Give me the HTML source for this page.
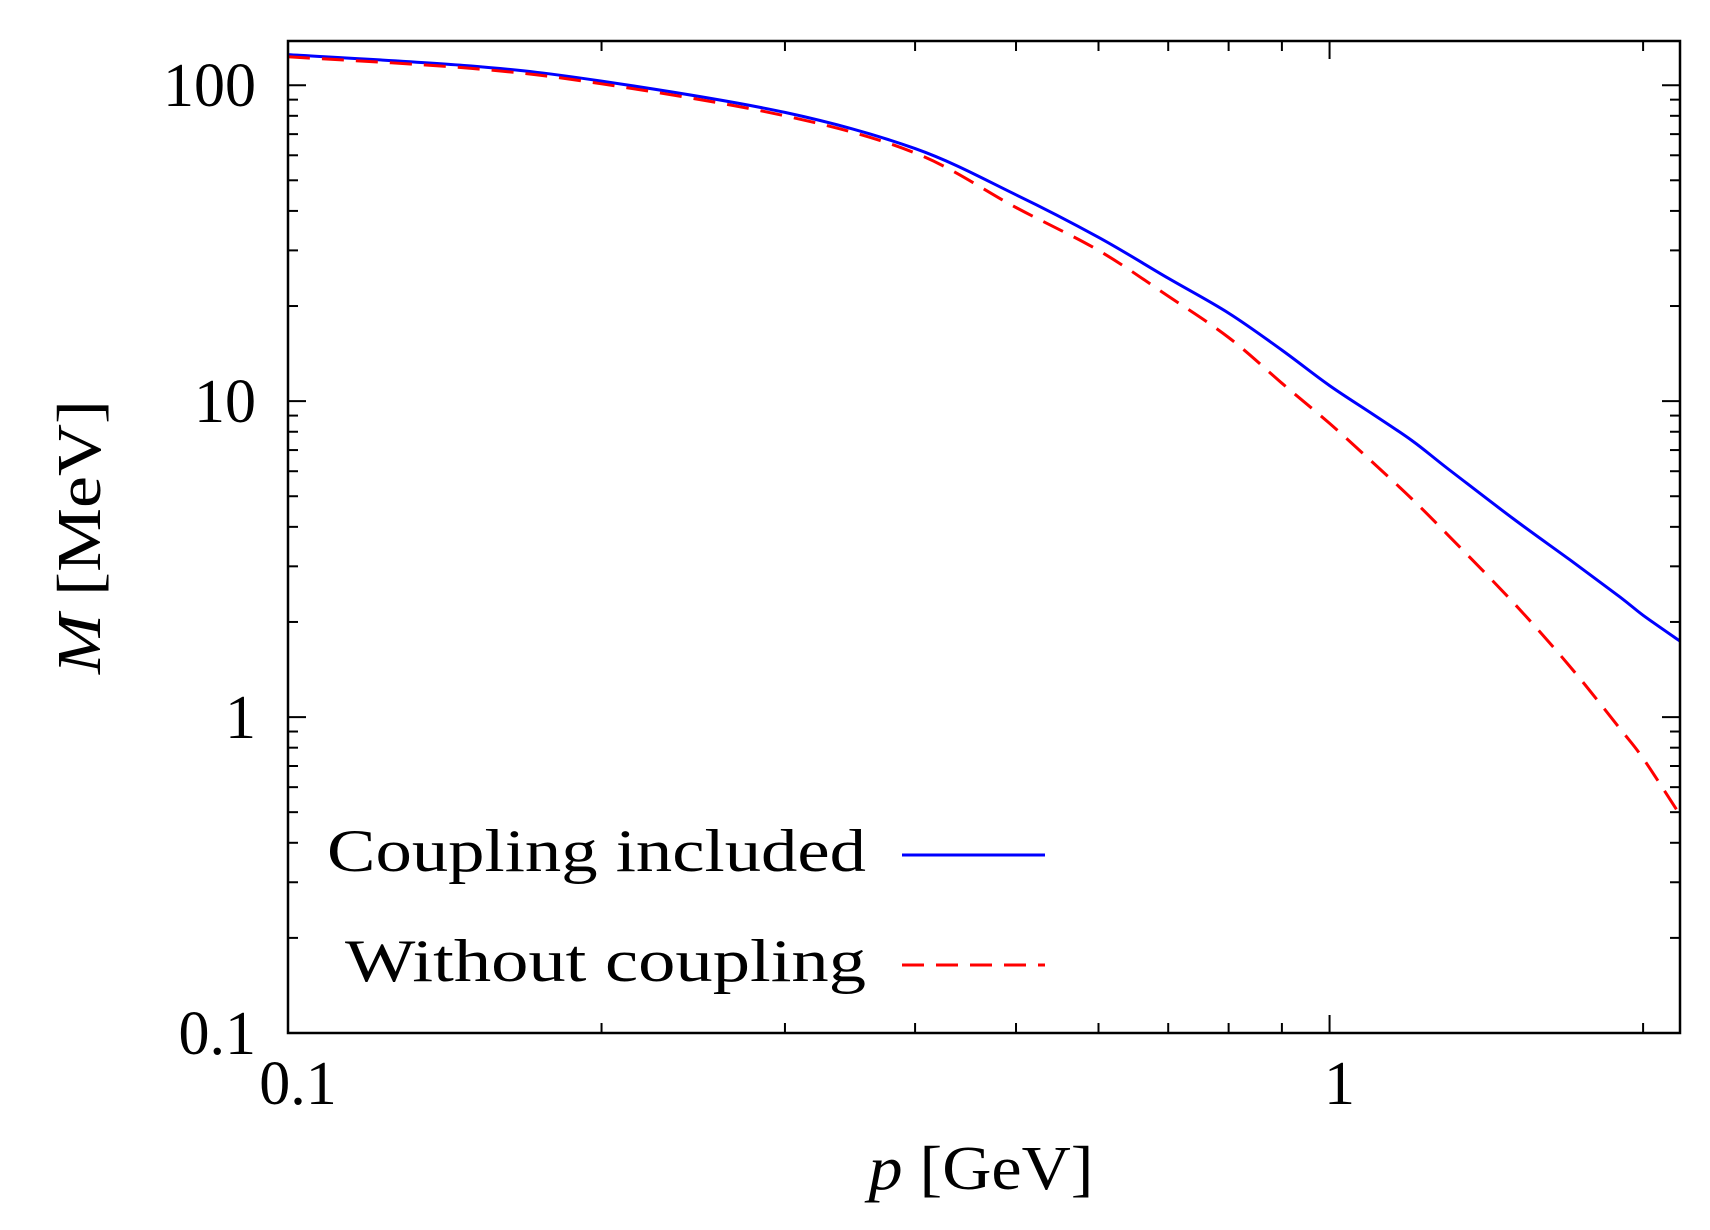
<!DOCTYPE html>
<html><head><meta charset="utf-8"><style>
html,body{margin:0;padding:0;background:#fff;}
svg{display:block;font-family:"Liberation Serif",serif;}
</style></head><body>
<svg id="chart" width="1710" height="1230" viewBox="0 0 1710 1230">
<g id="ticks"></g>
<g id="series"></g>
<rect x="288" y="41" width="1392" height="992" fill="none" stroke="#000" stroke-width="2.5"/>
<g>
<text x="866" y="871" font-size="60" text-anchor="end" textLength="539" lengthAdjust="spacingAndGlyphs">Coupling included</text>
<line x1="902" y1="855" x2="1045" y2="855" stroke="#0000ff" stroke-width="3"/>
<text x="866" y="981" font-size="60" text-anchor="end" textLength="521" lengthAdjust="spacingAndGlyphs">Without coupling</text>
<line x1="902" y1="965" x2="1045" y2="965" stroke="#ff0000" stroke-width="3" stroke-dasharray="22,12"/>
</g>
<text x="981" y="1189" font-size="62" text-anchor="middle" textLength="225" lengthAdjust="spacingAndGlyphs"><tspan font-style="italic">p</tspan> [GeV]</text>
<text transform="translate(100,537) rotate(-90)" font-size="62" text-anchor="middle" textLength="274" lengthAdjust="spacingAndGlyphs"><tspan font-style="italic">M</tspan> [MeV]</text>
</svg>
<script>
const pValues=[0.1,0.15,0.2,0.3,0.4,0.5,0.6,0.7,0.8,0.9,1.0,1.1,1.2,1.3,1.5,1.7,1.9,2.0,2.17];
const coupled=[125,115,103,82,63,45,33,24.5,19,14.5,11.2,9.1,7.5,6.1,4.25,3.15,2.4,2.1,1.74];
const uncoupled=[123,113,101,80,61,41,30,21.5,15.9,11.4,8.5,6.4,4.9,3.76,2.31,1.45,0.92,0.74,0.49];
const yTickValues=[0.1,1,10,100];
const yTickLabels=["0.1","1","10","100"];
const xTickValues=[0.1,1];
const xTickLabels=["0.1","1"];
const L=288,R=1680,T=41,B=1033;
const xmin=0.1,xmax=2.17,ymin=0.1,ymax=138;
const sx=v=>L+(Math.log10(v)-Math.log10(xmin))/(Math.log10(xmax)-Math.log10(xmin))*(R-L);
const sy=v=>B-(Math.log10(v)-Math.log10(ymin))/(Math.log10(ymax)-Math.log10(ymin))*(B-T);
const NS="http://www.w3.org/2000/svg";
const tg=document.getElementById('ticks'),sg=document.getElementById('series');
function ln(x1,y1,x2,y2){const l=document.createElementNS(NS,'line');l.setAttribute('x1',x1);l.setAttribute('y1',y1);l.setAttribute('x2',x2);l.setAttribute('y2',y2);l.setAttribute('stroke','#000');l.setAttribute('stroke-width','2');


tg.appendChild(l);}
for(let d=0.1;d<100.5;d*=10){for(let k=1;k<=9;k++){const v=d*k;if(v>ymax)break;const y=sy(v);const len=k===1?18:10;ln(L,y,L+len,y);ln(R,y,R-len,y);}}
for(let d=0.1;d<2;d*=10){for(let k=1;k<=9;k++){const v=d*k;if(v>xmax)break;const x=sx(v);const len=k===1?18:10;ln(x,B,x,B-len);ln(x,T,x,T+len);}}
yTickValues.forEach((v,i)=>{const t=document.createElementNS(NS,'text');t.setAttribute('x',256);t.setAttribute('y',sy(v)+21);t.setAttribute('font-size','62');t.setAttribute('text-anchor','end');t.textContent=yTickLabels[i];


tg.appendChild(t);});
xTickValues.forEach((v,i)=>{const t=document.createElementNS(NS,'text');t.setAttribute('x',sx(v)+10);t.setAttribute('y',1104);t.setAttribute('font-size','62');t.setAttribute('text-anchor','middle');t.textContent=xTickLabels[i];


tg.appendChild(t);});
function curve(vals,color,dash,name){const p=document.createElementNS(NS,'path');
const pts=pValues.map((x,i)=>[sx(x),sy(vals[i])]);
let d='M'+pts[0][0].toFixed(1)+','+pts[0][1].toFixed(1);
for(let i=0;i<pts.length-1;i++){const p0=pts[Math.max(i-1,0)],p1=pts[i],p2=pts[i+1],p3=pts[Math.min(i+2,pts.length-1)];
const c1=[p1[0]+(p2[0]-p0[0])/6,p1[1]+(p2[1]-p0[1])/6],c2=[p2[0]-(p3[0]-p1[0])/6,p2[1]-(p3[1]-p1[1])/6];
d+='C'+c1[0].toFixed(1)+','+c1[1].toFixed(1)+' '+c2[0].toFixed(1)+','+c2[1].toFixed(1)+' '+p2[0].toFixed(1)+','+p2[1].toFixed(1);}
p.setAttribute('d',d);p.setAttribute('fill','none');p.setAttribute('stroke',color);p.setAttribute('stroke-width','3');p.setAttribute('stroke-linejoin','round');if(dash)p.setAttribute('stroke-dasharray',dash);


sg.appendChild(p);}
curve(coupled,'#0000ff',null,'series-coupling-included');
curve(uncoupled,'#ff0000','22,12','series-without-coupling');
</script>
</body></html>
